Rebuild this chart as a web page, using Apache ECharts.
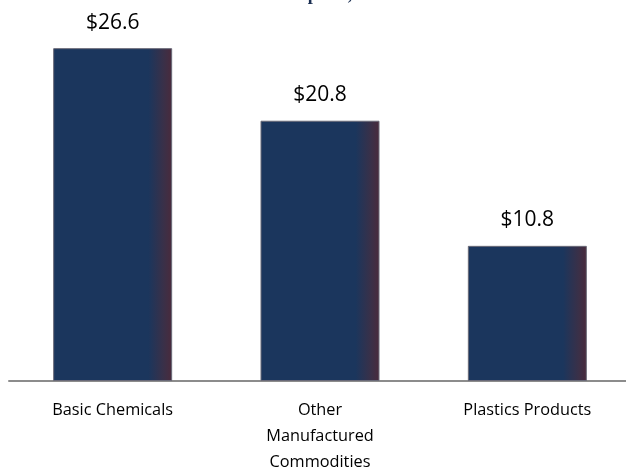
<!DOCTYPE html>
<html><head><meta charset="utf-8">
<script src="https://cdn.jsdelivr.net/npm/echarts@6/dist/echarts.min.js"></script>
<style>html,body{margin:0;padding:0;background:#fff}#c{width:626px;height:472px}</style>
</head><body><div id="c"></div>
<script>
const titleText = "Chemical Products Exports, 2015";
const categories = ["Basic Chemicals", "Other\nManufactured\nCommodities", "Plastics Products"];
const values = [26.6, 20.8, 10.8];
const labelPrefix = "$";

const chart = echarts.init(document.getElementById('c'));
chart.setOption({
  animation: false,
  title: {
    text: titleText, left: 136, top: -14, padding: 0,
    textStyle: {fontFamily: 'Liberation Serif', fontWeight: 'bold', fontSize: 18, color: '#1b2f52'}
  },
  grid: {left: 9, right: -5, top: 5.6, bottom: 91, containLabel: false, outerBoundsMode: 'none'},
  xAxis: {
    type: 'category', data: categories,
    axisLine: {lineStyle: {color: '#8c8c8c', width: 2}},
    axisTick: {show: false},
    axisLabel: {color: '#000', fontFamily: 'Open Sans', fontSize: 16.3, lineHeight: 26, margin: 16, interval: 0}
  },
  yAxis: {type: 'value', min: 0, max: 30, show: false, splitLine: {show: false}},
  series: [{
    type: 'bar', data: values, barWidth: 119,
    itemStyle: {
      color: new echarts.graphic.LinearGradient(0, 0, 1, 0, [
        {offset: 0, color: '#1b365d'},
        {offset: 0.8, color: '#1b365d'},
        {offset: 0.93, color: '#3a3048'},
        {offset: 1, color: '#4a2a3c'}
      ]),
      borderColor: '#6a6a78', borderWidth: 1
    },
    label: {
      show: true, position: 'top', distance: 15, color: '#000',
      fontFamily: 'Open Sans', fontSize: 21,
      formatter: p => labelPrefix + p.value.toFixed(1)
    }
  }]
});
</script></body></html>
